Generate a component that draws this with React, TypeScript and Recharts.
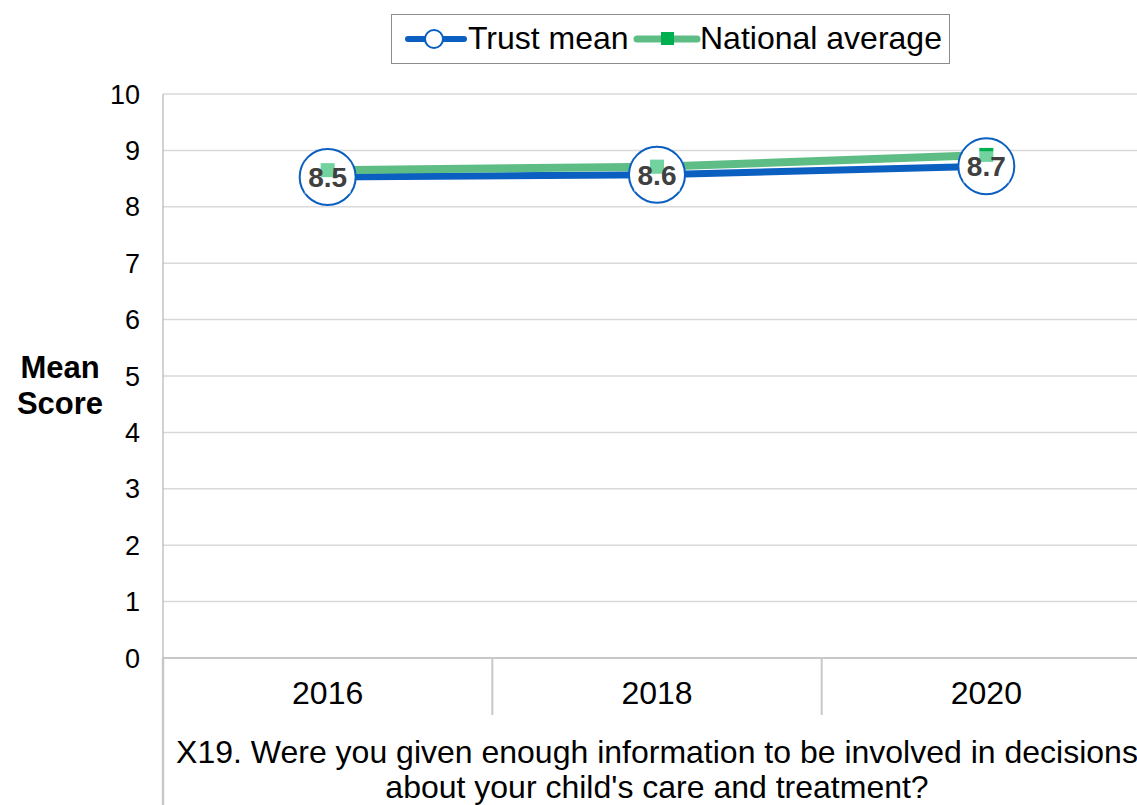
import React from 'react';
import { LineChart, Line, XAxis, YAxis, CartesianGrid, Legend, LabelList } from 'recharts';

const years = ['2016', '2018', '2020'];
const trustMean = [8.53, 8.57, 8.72];
const trustLabels = ['8.5', '8.6', '8.7'];
const nationalAverage = [8.65, 8.71, 8.92];
const yTicks = [0, 1, 2, 3, 4, 5, 6, 7, 8, 9, 10];
const xTitleLines = [
  'X19. Were you given enough information to be involved in decisions',
  "about your child's care and treatment?",
];
const yTitleLines = ['Mean', 'Score'];
const seriesNames = ['Trust mean', 'National average'];

const data = years.map((year, i) => ({
  year,
  trust: trustMean[i],
  trustLabel: trustLabels[i],
  national: nationalAverage[i],
}));

const FONT = '"Liberation Sans", Arial, sans-serif';
const CHART_W = 1170;
const CHART_H = 830;
const MARGIN = { top: 14, right: 19, left: 0, bottom: 0 };
const Y_AXIS_W = 163;
const X_AXIS_H = 172;
const PLOT_LEFT = MARGIN.left + Y_AXIS_W;
const PLOT_RIGHT = CHART_W - MARGIN.right;
const BAND = (PLOT_RIGHT - PLOT_LEFT) / years.length;

const BLUE = '#0a5fc0';
const GREEN_LINE = '#5dbd85';
const GREEN_MARK = '#00b050';

const XTick = (props: any) => {
  const { x, y, payload, index } = props;
  const half = BAND / 2;
  const last = index === years.length - 1;
  return (
    <g>
      <text x={x} y={y + 46} textAnchor="middle" fontSize={32} fontFamily={FONT} fill="#000">
        {payload.value}
      </text>
      <line
        x1={x - half}
        x2={x - half}
        y1={y}
        y2={index === 0 ? CHART_H : y + 57}
        stroke="#c8c8c8"
        strokeWidth={index === 0 ? 2.5 : 2}
      />
      {last && <line x1={x + half} x2={x + half} y1={y} y2={y + 57} stroke="#c8c8c8" strokeWidth={2} />}
    </g>
  );
};

const XTitle = (props: any) => {
  const { viewBox } = props;
  const cx = viewBox.x + viewBox.width / 2;
  return (
    <text textAnchor="middle" fontSize={32} fontFamily={FONT} fill="#000">
      {xTitleLines.map((l, i) => (
        <tspan key={i} x={cx} y={viewBox.y + 105 + i * 35}>
          {l}
        </tspan>
      ))}
    </text>
  );
};

const YTitle = () => (
  <text textAnchor="middle" fontSize={31} fontWeight="bold" fontFamily={FONT} fill="#000">
    {yTitleLines.map((l, i) => (
      <tspan key={i} x={60} y={378 + i * 36}>
        {l}
      </tspan>
    ))}
  </text>
);

const TrustDot = (props: any) => {
  const { cx, cy } = props;
  if (cx == null || cy == null) return null;
  return <circle cx={cx} cy={cy} r={28} fill="#fff" stroke={BLUE} strokeWidth={2} />;
};

const SquareDot = (props: any) => {
  const { cx, cy } = props;
  if (cx == null || cy == null) return null;
  return <rect x={cx - 7} y={cy - 7} width={14} height={14} fill={GREEN_MARK} />;
};

const DataLabel = (props: any) => {
  const { x, y, value, index } = props;
  return (
    <g>
      <rect x={x - 23} y={y - 15} width={46} height={32} fill="#fff" fillOpacity={0.45} />
      <text x={x} y={y + 10} textAnchor="middle" fontSize={28} fontWeight="bold" fontFamily={FONT} fill="#404040">
        {trustLabels[index] ?? value}
      </text>
    </g>
  );
};

const LegendContent = () => (
  <div style={{ position: 'relative', height: 80, width: CHART_W, fontFamily: FONT }}>
    <div
      style={{
        position: 'absolute',
        left: 391,
        top: 0,
        width: 557,
        height: 48,
        border: '1.5px solid #8c8c8c',
        background: '#fff',
      }}
    >
      <svg style={{ position: 'absolute', left: 12, top: 0 }} width={64} height={48}>
        <line x1={4} x2={60} y1={24} y2={24} stroke={BLUE} strokeWidth={6} strokeLinecap="round" />
        <circle cx={30} cy={24} r={9} fill="#fff" stroke={BLUE} strokeWidth={2} />
      </svg>
      <span style={{ position: 'absolute', left: 76, top: 5, fontSize: 32, lineHeight: '37px', color: '#000' }}>
        {seriesNames[0]}
      </span>
      <svg style={{ position: 'absolute', left: 241, top: 0 }} width={68} height={48}>
        <line x1={4} x2={64} y1={24} y2={24} stroke={GREEN_LINE} strokeWidth={7} strokeLinecap="round" />
        <rect x={28} y={17} width={13} height={13} fill={GREEN_MARK} />
      </svg>
      <span style={{ position: 'absolute', left: 308, top: 5, fontSize: 32, lineHeight: '37px', color: '#000' }}>
        {seriesNames[1]}
      </span>
    </div>
  </div>
);

export default function App() {
  return (
    <div style={{ position: 'fixed', left: 0, top: 0, width: 1137, height: 805, overflow: 'hidden', background: '#fff' }}>
      <LineChart width={CHART_W} height={CHART_H} data={data} margin={MARGIN}>
        <CartesianGrid horizontal vertical={false} stroke="#d9d9d9" strokeWidth={1.5} />
        <XAxis
          dataKey="year"
          scale="band"
          height={X_AXIS_H}
          tickSize={0}
          tickMargin={0}
          tickLine={false}
          axisLine={{ stroke: '#c8c8c8', strokeWidth: 2 }}
          tick={<XTick />}
          interval={0}
          label={<XTitle />}
        />
        <YAxis
          width={Y_AXIS_W}
          domain={[0, 10]}
          ticks={yTicks}
          interval={0}
          tickSize={0}
          tickMargin={23}
          tickLine={false}
          axisLine={{ stroke: '#a6a6a6', strokeWidth: 1 }}
          tick={{ fontSize: 27, fontFamily: FONT, fill: '#000' }}
          label={<YTitle />}
        />
        <Legend verticalAlign="top" align="left" wrapperStyle={{ left: 0, top: MARGIN.top, width: CHART_W }} content={<LegendContent />} />
        <Line
          name={seriesNames[0]}
          dataKey="trust"
          stroke={BLUE}
          strokeWidth={7}
          dot={<TrustDot />}
          activeDot={false}
          isAnimationActive={false}
        />
        <Line
          name={seriesNames[1]}
          dataKey="national"
          stroke={GREEN_LINE}
          strokeWidth={8}
          dot={<SquareDot />}
          activeDot={false}
          isAnimationActive={false}
        />
        <Line
          dataKey="trust"
          stroke="none"
          dot={false}
          activeDot={false}
          legendType="none"
          isAnimationActive={false}
        >
          <LabelList dataKey="trustLabel" content={<DataLabel />} />
        </Line>
      </LineChart>
    </div>
  );
}
